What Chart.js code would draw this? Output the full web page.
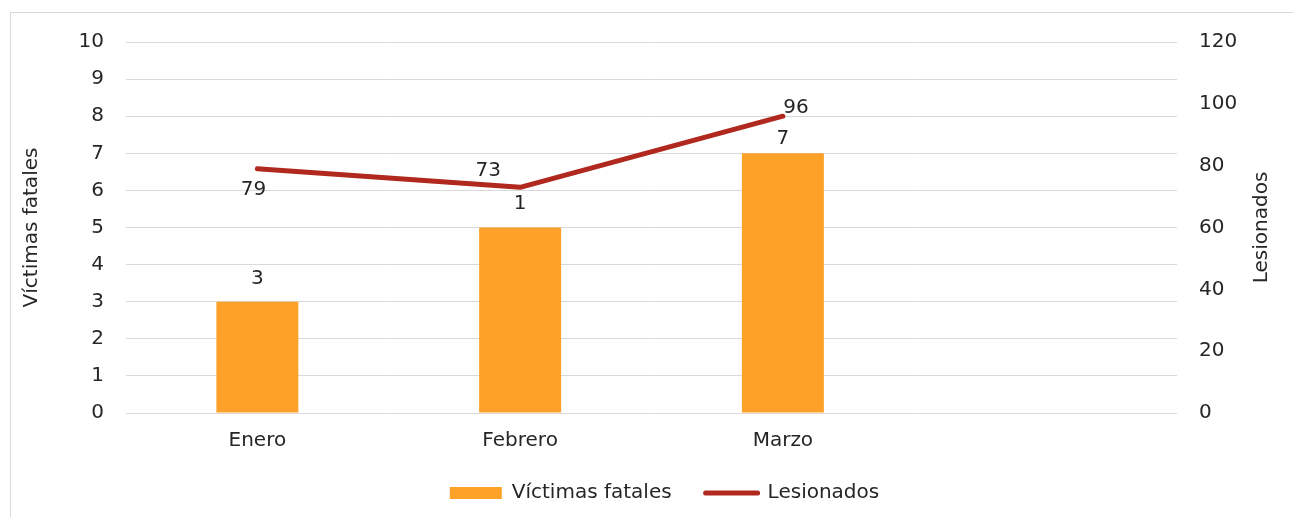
<!DOCTYPE html>
<html>
<head>
<meta charset="utf-8">
<script src="https://cdn.jsdelivr.net/npm/chart.js@4"></script>
<style>
  html, body { margin: 0; padding: 0; background: #fff; }
  #wrap { position: relative; width: 1293px; height: 517px; }
</style>
</head>
<body>
<div id="wrap"><canvas id="myChart" width="1293" height="517"></canvas></div>
<script>
const categories = ["Enero", "Febrero", "Marzo", ""];
const seriesNames = ["Víctimas fatales", "Lesionados"];
const victimas = [3, 5, 7, null];
const victimasLabels = ["3", "1", "7", ""];
const lesionados = [79, 73, 96, null];
const leftTicks = [0, 1, 2, 3, 4, 5, 6, 7, 8, 9, 10];
const rightTicks = [0, 20, 40, 60, 80, 100, 120];

const barColor = "#FDA128";
const lineColor = "#B0281E";
const textColor = "#262626";
const gridColor = "#D9D9D9";
const font = "'DejaVu Sans', sans-serif";

// label nudges, like the hand-placed ones in the original
const barLabelOffsets = [-23, -24, -15];
const lineLabelOffsets = [[-4, 21], [-32, -17], [13, -8]];

const frame = {
  id: "frame",
  beforeDraw(chart) {
    const ctx = chart.ctx;
    ctx.save();
    ctx.strokeStyle = gridColor;
    ctx.lineWidth = 1;
    ctx.strokeRect(10.5, 12.5, 1400, 600);
    ctx.restore();
    // legend sits a bit right of centre in the original
    const lg = chart.legend;
    if (lg && !lg._shifted) {
      lg.left += 16;
      lg.right += 16;
      lg._shifted = true;
    }
  },
};

const valueLabels = {
  id: "valueLabels",
  afterDatasetsDraw(chart) {
    const ctx = chart.ctx;
    ctx.save();
    ctx.font = "20px " + font;
    ctx.fillStyle = textColor;
    ctx.textAlign = "center";
    ctx.textBaseline = "middle";
    chart.getDatasetMeta(0).data.forEach((bar, i) => {
      if (victimas[i] == null) return;
      ctx.fillText(victimasLabels[i], bar.x, bar.y + barLabelOffsets[i]);
    });
    chart.getDatasetMeta(1).data.forEach((pt, i) => {
      if (lesionados[i] == null) return;
      const off = lineLabelOffsets[i];
      ctx.fillText(String(lesionados[i]), pt.x + off[0], pt.y + off[1]);
    });
    // right axis title reads bottom-to-top, like the left one
    const area = chart.chartArea;
    ctx.translate(1262, (area.top + area.bottom) / 2);
    ctx.rotate(-Math.PI / 2);
    ctx.fillText(seriesNames[1], 0, 0);
    ctx.restore();
  },
};

new Chart("myChart", {
  type: "bar",
  data: {
    labels: categories,
    datasets: [
      {
        type: "bar",
        label: seriesNames[0],
        data: victimas,
        backgroundColor: barColor,
        borderWidth: 0,
        yAxisID: "y",
        order: 2,
        categoryPercentage: 1,
        barPercentage: 0.312,
      },
      {
        type: "line",
        label: seriesNames[1],
        data: lesionados,
        borderColor: lineColor,
        backgroundColor: lineColor,
        borderWidth: 5,
        borderCapStyle: "round",
        borderJoinStyle: "round",
        pointRadius: 0,
        tension: 0,
        yAxisID: "y1",
        order: 1,
      },
    ],
  },
  options: {
    responsive: false,
    animation: false,
    layout: { padding: { left: 20, right: 16, top: 42, bottom: 4 } },
    plugins: {
      tooltip: { enabled: false },
      legend: {
        display: true,
        position: "bottom",
        labels: {
          color: textColor,
          font: { family: font, size: 20 },
          usePointStyle: true,
          pointStyleWidth: 52,
          boxHeight: 12,
          padding: 34,
          generateLabels: () => [
            {
              text: seriesNames[0],
              fillStyle: barColor,
              strokeStyle: barColor,
              lineWidth: 0,
              pointStyle: "rect",
              datasetIndex: 0,
              fontColor: textColor,
            },
            {
              text: seriesNames[1],
              fillStyle: lineColor,
              strokeStyle: lineColor,
              lineWidth: 5,
              lineCap: "round",
              pointStyle: "line",
              datasetIndex: 1,
              fontColor: textColor,
            },
          ],
        },
      },
    },
    scales: {
      x: {
        grid: { display: false, drawTicks: false },
        border: { display: false },
        ticks: { color: textColor, font: { family: font, size: 20 }, padding: 16, maxRotation: 0 },
        afterFit: (s) => { s.height -= 20; },
      },
      y: {
        position: "left",
        min: 0,
        max: 10,
        afterBuildTicks: (s) => { s.ticks = leftTicks.map((v) => ({ value: v })); },
        grid: { color: gridColor, lineWidth: 1, drawTicks: false },
        border: { display: false },
        ticks: { color: textColor, font: { family: font, size: 20 }, padding: 22 },
        title: { display: true, text: seriesNames[0], color: textColor, font: { family: font, size: 20 }, padding: 0 },
        afterFit: (s) => { s.width = 106; },
      },
      y1: {
        position: "right",
        min: 0,
        max: 120,
        afterBuildTicks: (s) => { s.ticks = rightTicks.map((v) => ({ value: v })); },
        grid: { display: false, drawTicks: false },
        border: { display: false },
        ticks: { color: textColor, font: { family: font, size: 20 }, padding: 22 },
        afterFit: (s) => { s.width = 100; },
      },
    },
  },
  plugins: [frame, valueLabels],
});
</script>
</body>
</html>
